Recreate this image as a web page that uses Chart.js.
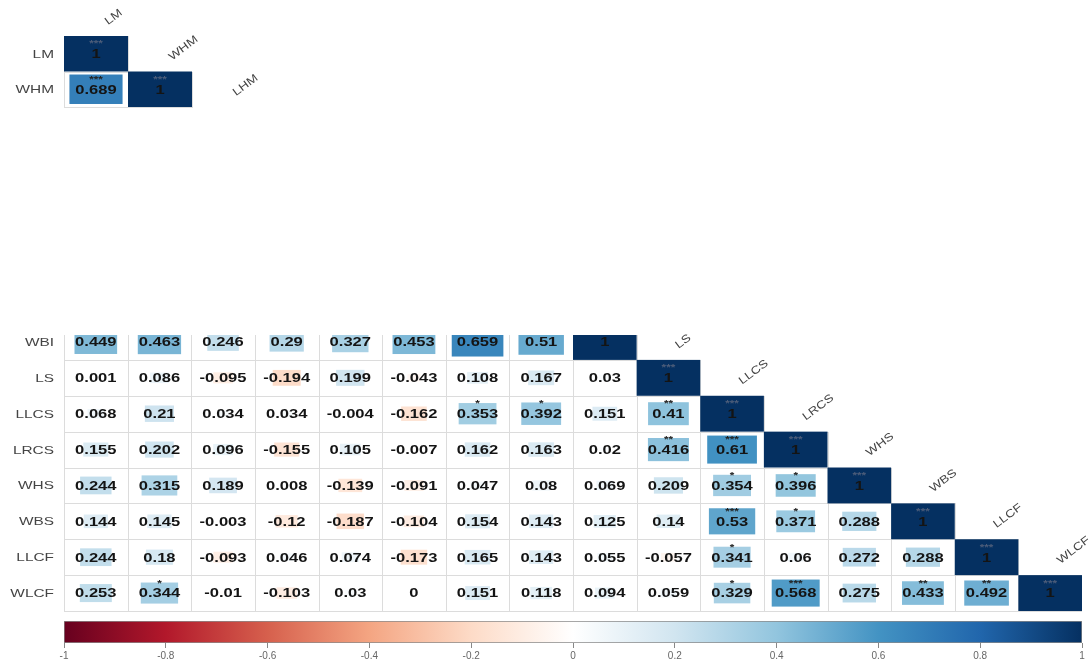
<!DOCTYPE html>
<html>
<head>
<meta charset="utf-8">
<script src="https://cdn.jsdelivr.net/npm/chart.js@4.4.1/dist/chart.umd.min.js"></script>
<style>
  html, body { margin: 0; padding: 0; background: #fff; }
  body { width: 1092px; height: 666px; position: relative; overflow: hidden; }
  canvas { position: absolute; left: 0; }
</style>
</head>
<body>
<canvas id="topChart" width="280" height="112" style="top:0;width:280px;height:112px"></canvas>
<canvas id="bottomChart" width="1092" height="316" style="top:300px;width:1092px;height:316px"></canvas>
<canvas id="barChart" width="1092" height="54" style="top:612px;width:1092px;height:54px"></canvas>
<script>
// small matrix, top left
const topVars = ['LM', 'WHM', 'LHM'];
const topLM = [1];
const topWHM = [0.689, 1];
const topStarsLM = ['***'];
const topStarsWHM = ['***', '***'];

// big matrix: first eight column names are cut off in the source picture
const bottomVars = ['', '', '', '', '', '', '', '', 'WBI', 'LS', 'LLCS', 'LRCS', 'WHS', 'WBS', 'LLCF', 'WLCF'];
const bottomRows = ['WBI', 'LS', 'LLCS', 'LRCS', 'WHS', 'WBS', 'LLCF', 'WLCF'];
const rWBI = [0.449, 0.463, 0.246, 0.29, 0.327, 0.453, 0.659, 0.51, 1];
const rLS = [0.001, 0.086, -0.095, -0.194, 0.199, -0.043, 0.108, 0.167, 0.03, 1];
const rLLCS = [0.068, 0.21, 0.034, 0.034, -0.004, -0.162, 0.353, 0.392, 0.151, 0.41, 1];
const rLRCS = [0.155, 0.202, 0.096, -0.155, 0.105, -0.007, 0.162, 0.163, 0.02, 0.416, 0.61, 1];
const rWHS = [0.244, 0.315, 0.189, 0.008, -0.139, -0.091, 0.047, 0.08, 0.069, 0.209, 0.354, 0.396, 1];
const rWBS = [0.144, 0.145, -0.003, -0.12, -0.187, -0.104, 0.154, 0.143, 0.125, 0.14, 0.53, 0.371, 0.288, 1];
const rLLCF = [0.244, 0.18, -0.093, 0.046, 0.074, -0.173, 0.165, 0.143, 0.055, -0.057, 0.341, 0.06, 0.272, 0.288, 1];
const rWLCF = [0.253, 0.344, -0.01, -0.103, 0.03, 0, 0.151, 0.118, 0.094, 0.059, 0.329, 0.568, 0.275, 0.433, 0.492, 1];

const sWBI = ['', '', '', '', '', '', '', '', ''];
const sLS = ['', '', '', '', '', '', '', '', '', '***'];
const sLLCS = ['', '', '', '', '', '', '*', '*', '', '**', '***'];
const sLRCS = ['', '', '', '', '', '', '', '', '', '**', '***', '***'];
const sWHS = ['', '', '', '', '', '', '', '', '', '', '*', '*', '***'];
const sWBS = ['', '', '', '', '', '', '', '', '', '', '***', '*', '', '***'];
const sLLCF = ['', '', '', '', '', '', '', '', '', '', '*', '', '', '', '***'];
const sWLCF = ['', '*', '', '', '', '', '', '', '', '', '*', '***', '', '**', '**', '***'];

// colour bar
const barRange = [-1, 1];
const rdbu = ['#67001F', '#B2182B', '#D6604D', '#F4A582', '#FDDBC7', '#FFFFFF',
              '#D1E5F0', '#92C5DE', '#4393C3', '#2166AC', '#053061'];

function hexRgb(h) {
    return [1, 3, 5].map(i => parseInt(h.substr(i, 2), 16));
}

function corrColor(r) {
    const t = (r + 1) / 2 * (rdbu.length - 1);
    const i = Math.min(Math.floor(t), rdbu.length - 2);
    const f = t - i;
    const a = hexRgb(rdbu[i]), b = hexRgb(rdbu[i + 1]);
    const c = a.map((v, k) => Math.round(v + (b[k] - v) * f));
    return `rgb(${c[0]},${c[1]},${c[2]})`;
}

function makeCells(values, stars) {
    const pts = [];
    values.forEach((row, i) => {
        row.forEach((v, j) => pts.push({x: j + 1, y: i + 1, v: v, s: stars[i][j] || ''}));
    });
    return pts;
}

function wideText(ctx, text, x, y, sx) {
    ctx.save();
    ctx.translate(x, y);
    ctx.scale(sx, 1);
    ctx.fillText(text, 0, 0);
    ctx.restore();
}

const corrPlugin = {
    id: 'corr',
    afterDatasetsDraw(chart, args, opts) {
        const ctx = chart.ctx;
        const xs = chart.scales.x, ys = chart.scales.y;
        const area = chart.chartArea;
        const pts = chart.data.datasets[0].data;
        const els = chart.getDatasetMeta(0).data;

        ctx.save();
        ctx.beginPath();
        ctx.rect(area.left, area.top, area.right - area.left, area.bottom - area.top + 1);
        ctx.clip();

        // grid
        ctx.strokeStyle = '#dcdcdc';
        ctx.lineWidth = 1;
        pts.forEach(p => {
            const x0 = Math.round(xs.getPixelForValue(p.x - 0.5)) + 0.5;
            const x1 = Math.round(xs.getPixelForValue(p.x + 0.5)) + 0.5;
            const y0 = Math.round(ys.getPixelForValue(p.y - 0.5)) + 0.5;
            const y1 = Math.round(ys.getPixelForValue(p.y + 0.5)) + 0.5;
            ctx.strokeRect(x0, y0, x1 - x0, y1 - y0);
        });

        // squares, side ~ sqrt(|r|)
        pts.forEach((p, i) => {
            const el = els[i];
            const k = Math.sqrt(Math.abs(p.v));
            const cw = Math.abs(xs.getPixelForValue(p.x + 0.5) - xs.getPixelForValue(p.x - 0.5));
            const ch = Math.abs(ys.getPixelForValue(p.y + 0.5) - ys.getPixelForValue(p.y - 0.5));
            ctx.fillStyle = corrColor(p.v);
            ctx.fillRect(el.x - cw * k / 2, el.y - ch * k / 2, cw * k, ch * k);
        });

        // numbers and stars
        ctx.textAlign = 'center';
        ctx.textBaseline = 'middle';
        pts.forEach((p, i) => {
            const el = els[i];
            ctx.fillStyle = '#141414';
            ctx.font = 'bold 12px "Liberation Sans", Arial, sans-serif';
            wideText(ctx, String(p.v), el.x, el.y + 1, 1.38);
            if (p.s) {
                ctx.fillStyle = Math.abs(p.v) > 0.8 ? '#4d5d7a' : '#222';
                ctx.font = 'bold 9px "Liberation Sans", Arial, sans-serif';
                wideText(ctx, p.s, el.x, el.y - 10, 1.3);
            }
        });
        ctx.restore();

        // row labels
        ctx.save();
        ctx.fillStyle = '#444';
        ctx.font = '11px "Liberation Sans", Arial, sans-serif';
        ctx.textAlign = 'right';
        ctx.textBaseline = 'middle';
        opts.rows.forEach((name, i) => {
            const y = ys.getPixelForValue(i + 1);
            if (y < area.top) return;
            wideText(ctx, name, area.left - 10, y + 1, 1.4);
        });

        // diagonal column labels
        ctx.textAlign = 'left';
        ctx.textBaseline = 'alphabetic';
        opts.cols.forEach((name, c) => {
            if (!name) return;
            const row = c + 1 - opts.rowOffset - 1;
            if (row < opts.labelMinRow) return;
            const x = xs.getPixelForValue(c + 1) + opts.labelDx;
            const y = ys.getPixelForValue(row) + 7;
            ctx.save();
            ctx.translate(x, y);
            ctx.rotate(-37 * Math.PI / 180);
            ctx.scale(1.22, 1);
            ctx.fillText(name, 0, 0);
            ctx.restore();
        });
        ctx.restore();
    }
};

function matrixChart(id, cells, cfg) {
    return new Chart(document.getElementById(id), {
        type: 'scatter',
        data: { datasets: [{ data: cells, pointRadius: 0, pointHoverRadius: 0 }] },
        options: {
            responsive: false,
            animation: false,
            events: [],
            layout: { padding: cfg.padding },
            scales: {
                x: { type: 'linear', display: false, min: 0.5, max: cfg.nCols + 0.5 },
                y: { type: 'linear', display: false, reverse: true, min: cfg.yMin, max: cfg.yMax }
            },
            plugins: {
                legend: { display: false },
                tooltip: { enabled: false },
                corr: { rows: cfg.rows, cols: cfg.cols, rowOffset: cfg.rowOffset,
                        labelMinRow: cfg.labelMinRow, labelDx: cfg.labelDx }
            }
        },
        plugins: [corrPlugin]
    });
}

matrixChart('topChart', makeCells([topLM, topWHM], [topStarsLM, topStarsWHM]), {
    padding: { left: 64, top: 36, right: 24, bottom: 5 },
    nCols: 3, yMin: 0.5, yMax: 2.5,
    rows: ['LM', 'WHM'], cols: topVars, rowOffset: 0, labelMinRow: 0, labelDx: 12
});

matrixChart('bottomChart',
    makeCells([rWBI, rLS, rLLCS, rLRCS, rWHS, rWBS, rLLCF, rWLCF],
              [sWBI, sLS, sLLCS, sLRCS, sWHS, sWBS, sLLCF, sWLCF]), {
    padding: { left: 64, top: 35, right: 10, bottom: 5 },
    nCols: 16, yMin: 0.806, yMax: 8.5,
    rows: bottomRows, cols: bottomVars, rowOffset: 8, labelMinRow: 1, labelDx: 10
});

new Chart(document.getElementById('barChart'), {
    type: 'bar',
    data: {
        labels: ['r'],
        datasets: [{
            data: [barRange],
            backgroundColor: (c) => {
                const area = c.chart.chartArea;
                if (!area) return '#fff';
                const g = c.chart.ctx.createLinearGradient(area.left, 0, area.right, 0);
                rdbu.forEach((col, i) => g.addColorStop(i / (rdbu.length - 1), col));
                return g;
            },
            borderColor: '#8a8a8a',
            borderWidth: 1,
            borderSkipped: false,
            barPercentage: 1,
            categoryPercentage: 1
        }]
    },
    options: {
        indexAxis: 'y',
        responsive: false,
        animation: false,
        events: [],
        layout: { padding: { left: 64, right: 10, top: 9, bottom: 2 } },
        scales: {
            x: {
                type: 'linear', min: -1, max: 1,
                border: { display: false },
                grid: { drawOnChartArea: false, drawTicks: true, tickLength: 5, tickColor: '#888' },
                ticks: {
                    stepSize: 0.2, padding: 2, color: '#666',
                    font: { family: '"Liberation Sans", Arial, sans-serif', size: 10 },
                    callback: (v) => String(+v.toFixed(1))
                }
            },
            y: { display: false }
        },
        plugins: { legend: { display: false }, tooltip: { enabled: false } }
    }
});
</script>
</body>
</html>
